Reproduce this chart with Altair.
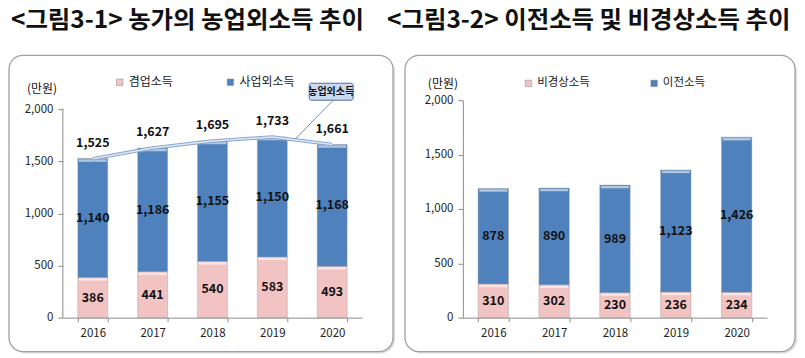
import altair as alt
import pandas as pd

# ---- data ----
years = ["2016", "2017", "2018", "2019", "2020"]
side_income = [386, 441, 540, 583, 493]          # 겸업소득
nonbiz_income = [1140, 1186, 1155, 1150, 1168]   # 사업외소득
nonfarm_total = [1525, 1627, 1695, 1733, 1661]   # 농업외소득
irregular_income = [310, 302, 230, 236, 234]     # 비경상소득
transfer_income = [878, 890, 989, 1123, 1426]    # 이전소득
y_ticks = [0, 500, 1000, 1500, 2000]

FONT = "Noto Sans CJK KR"
PINK = "#f2c3c3"
BLUE = "#4f81bd"
AX = "#8c8c8c"
H = 218


def long_df(a_name, a_vals, b_name, b_vals):
    rows = []
    for i, y in enumerate(years):
        rows.append({"year": y, "series": a_name, "value": a_vals[i], "ord": 0})
        rows.append({"year": y, "series": b_name, "value": b_vals[i], "ord": 1})
    return pd.DataFrame(rows)


one = pd.DataFrame({"k": [0]})


def frame(x0, x1, y0, y1):
    shadow = alt.Chart(one).mark_rect(cornerRadius=14, fill="#cfcfcf", opacity=0.7).encode(
        x=alt.value(x0 + 2), x2=alt.value(x1 + 2), y=alt.value(y0 + 2), y2=alt.value(y1 + 2))
    box = alt.Chart(one).mark_rect(cornerRadius=14, fill="white", stroke="#a0a0a0", strokeWidth=1.3).encode(
        x=alt.value(x0), x2=alt.value(x1), y=alt.value(y0), y2=alt.value(y1))
    return shadow + box


def text_at(x, y, s, size, weight="normal", align="center"):
    return alt.Chart(one).mark_text(font=FONT, fontSize=size, fontWeight=weight, align=align,
                                    baseline="middle", color="#111").encode(
        x=alt.value(x), y=alt.value(y), text=alt.value(s))


def panel(df, a_name, b_name, width, ymax, show_domain, legend_x, legend_y, col_pad, leg_fs,
          title, title_x, unit_x, unit_y, fr):
    xs = alt.X("year:N", title=None, sort=years,
               scale=alt.Scale(paddingInner=0.5, paddingOuter=0.25),
               axis=alt.Axis(labelAngle=0, tickBand="extent", tickSize=4, tickColor=AX,
                             domainColor=AX, labelFontSize=11.5, labelFont=FONT,
                             labelColor="#222", labelPadding=6, zindex=1))
    yscale = alt.Scale(domain=[0, ymax], nice=False, zero=True)
    yaxis = alt.Axis(values=y_ticks, format=",.0f", grid=False, tickSize=5,
                     tickColor=AX, domain=show_domain, domainColor=AX,
                     labelFontSize=11.5, labelFont=FONT, labelColor="#222",
                     labelPadding=5, zindex=1)

    def Y(field):
        return alt.Y(field, title=None, scale=yscale, axis=yaxis)

    base = alt.Chart(df)
    bars = base.mark_bar(stroke="#9a9a9a", strokeWidth=0.4).encode(
        x=xs,
        y=alt.Y("value:Q", stack="zero", title=None, scale=yscale, axis=yaxis),
        color=alt.Color("series:N",
                        scale=alt.Scale(domain=[a_name, b_name], range=[PINK, BLUE]),
                        legend=alt.Legend(orient="none", legendX=legend_x, legendY=legend_y,
                                          direction="horizontal", title=None,
                                          symbolType="square", symbolSize=42,
                                          symbolStrokeColor="#888", symbolStrokeWidth=0.5,
                                          labelFontSize=leg_fs, labelFont=FONT, labelColor="#222",
                                          columnPadding=col_pad, labelOffset=3)),
        order=alt.Order("ord:Q"),
    )
    stacked = base.transform_stack(
        stack="value", as_=["v0", "v1"], groupby=["year"], sort=[alt.SortField("ord")]
    ).transform_calculate(mid="(datum.v0 + datum.v1) / 2")
    shine = stacked.mark_tick(color="white", opacity=0.55, thickness=2.5, size=28,
                              yOffset=2).encode(x=xs, y=Y("v1:Q"))
    labels = stacked.mark_text(
        font=FONT, fontSize=12.5, fontWeight="bold", color="#111", baseline="middle"
    ).encode(x=xs, y=Y("mid:Q"), text=alt.Text("value:Q", format=","))

    layers = [frame(*fr),
              text_at(title_x, -79, title, 24.5, "bold", "left"),
              text_at(unit_x, unit_y, "(만원)", 12),
              bars, shine, labels]
    if not show_domain:
        axis_line = alt.Chart(one).mark_rule(color=AX).encode(
            x=alt.value(0), y=alt.datum(0, scale=yscale), y2=alt.datum(2000))
        layers.append(axis_line)
    return layers, xs, Y


# ---- left panel ----
df1 = long_df("겸업소득", side_income, "사업외소득", nonbiz_income)
layers1, xs1, Y1 = panel(df1, "겸업소득", "사업외소득", 300, 2000 * H / 209, False,
                         51, -24, 51, 12, "<그림3-1> 농가의 농업외소득 추이", -52, -21, -11,
                         (-54, 331, -45, 252))
tot = pd.DataFrame({"year": years, "total": nonfarm_total})
line_out = alt.Chart(tot).mark_line(color="#8aa6cc", strokeWidth=3.5).encode(x=xs1, y=Y1("total:Q"))
line_in = alt.Chart(tot).mark_line(color="#dde7f3", strokeWidth=1.5).encode(x=xs1, y=Y1("total:Q"))
tot_lab = alt.Chart(tot).mark_text(font=FONT, fontSize=12.5, fontWeight="bold", color="#111",
                                   dy=-16, baseline="middle").encode(
    x=xs1, y=Y1("total:Q"), text=alt.Text("total:Q", format=","))
leader = alt.Chart(one).mark_rule(color="#6f8fbf", strokeWidth=1).encode(
    x=alt.value(271), y=alt.value(0), x2=alt.value(233), y2=alt.value(39))
callout = alt.Chart(one).mark_rect(fill="#c9daf0", stroke="#4f6e9e", strokeWidth=1, cornerRadius=2).encode(
    x=alt.value(247), x2=alt.value(291), y=alt.value(-17), y2=alt.value(0))
callout_t = text_at(269, -8.5, "농업외소득", 10, "bold")
left = alt.layer(*layers1, line_out, line_in, tot_lab, leader, callout, callout_t).properties(
    width=300, height=H)

# ---- right panel ----
df2 = long_df("비경상소득", irregular_income, "이전소득", transfer_income)
layers2, xs2, Y2 = panel(df2, "비경상소득", "이전소득", 305, 2000, True,
                         60, -23, 58, 11.5, "<그림3-2>  이전소득 및 비경상소득 추이", -76, -20, -16,
                         (-58, 333, -45, 252))
right = alt.layer(*layers2).properties(width=305, height=H)

chart = alt.hconcat(left, right, spacing=101, bounds="flush").resolve_scale(
    x="independent", y="independent", color="independent"
).resolve_legend(color="independent").properties(padding=0).configure_view(stroke=None)

chart.save("out.html", embed_options={"renderer": "svg", "actions": False})
